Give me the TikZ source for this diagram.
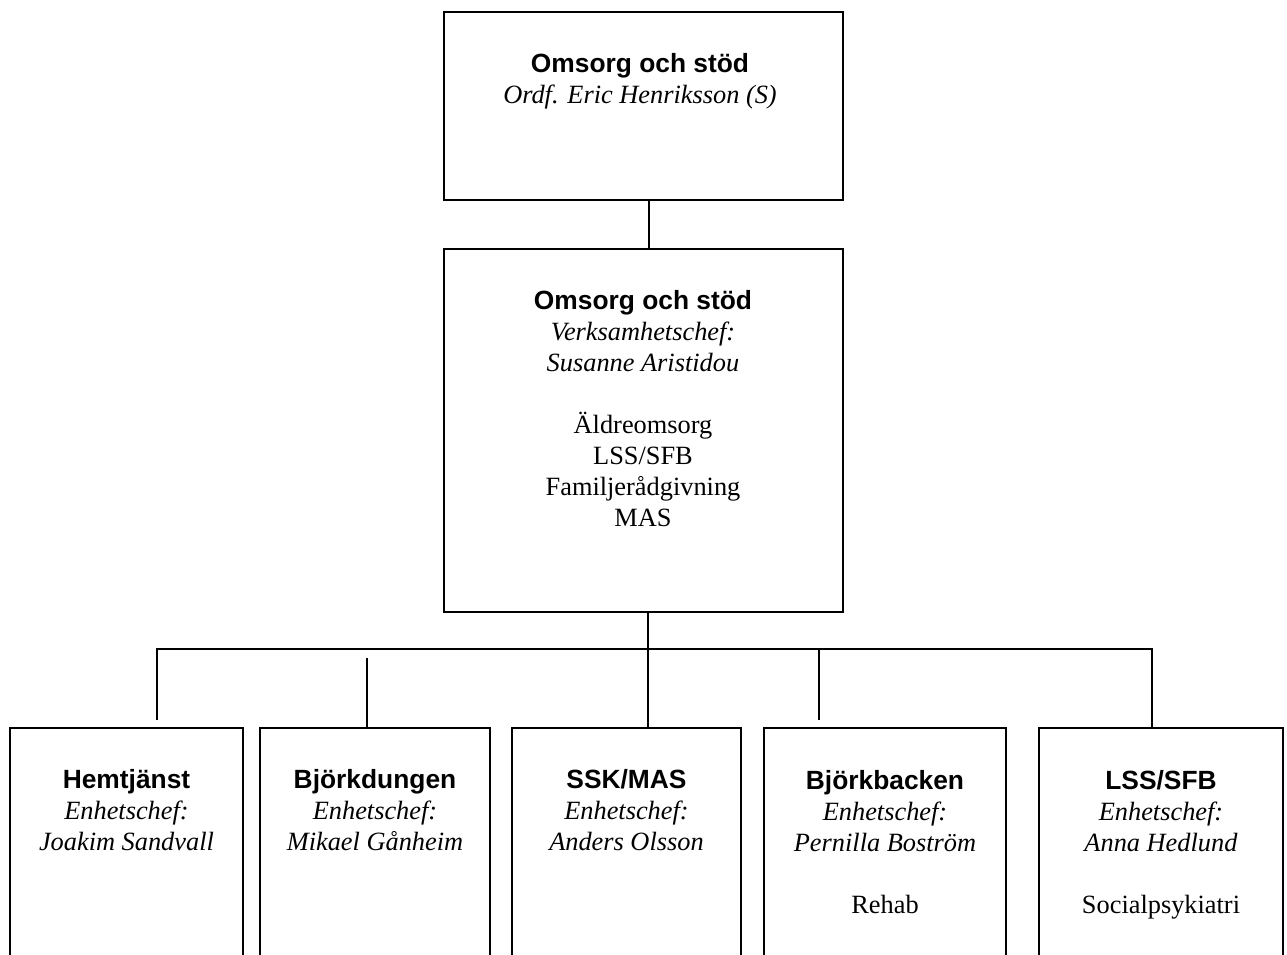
\documentclass[tikz,border=0pt]{standalone}
\usepackage{fontspec}
\setmainfont{Liberation Serif}
\setsansfont{Liberation Sans}
\usetikzlibrary{positioning}

\tikzset{
    unit/.style={draw, line width=1.3pt, inner sep=0pt},
    txt/.style={align=center, inner sep=0pt, anchor=base,
        font=\fontsize{15}{17.6}\selectfont},
    link/.style={line width=1.3pt}
}
\newcommand{\unitname}[1]{{\sffamily\bfseries #1}}

\begin{document}
\begin{tikzpicture}[x=0.02cm, y=-0.02cm]
    \useasboundingbox (0,0) rectangle (1287,954);
    \clip (0,0) rectangle (1287,954);

    % Board (text placed by its last baseline)
    \node[unit, minimum width=7.98cm, minimum height=3.76cm] (board) at (643.5,106) {};
    \node[txt] (boardtxt) at (640,103) {\unitname{Omsorg och stöd}\\
        \textit{Ordf. Eric Henriksson (S)}};

    % Department
    \node[unit, minimum width=7.98cm, minimum height=7.26cm] (dept) at (643.5,430.5) {};
    \node[txt] (depttxt) at (643,526) {\unitname{Omsorg och stöd}\\
        \textit{Verksamhetschef:}\\ \textit{Susanne Aristidou}\\[17.6pt]
        Äldreomsorg\\ LSS/SFB\\ Familjerådgivning\\ MAS};

    % Units
    \node[unit, minimum width=4.66cm, minimum height=5.44cm] (hemtj) at (126.5,864) {};
    \node[unit, minimum width=4.60cm, minimum height=5.44cm] (bjd) at (375,864) {};
    \node[unit, minimum width=4.58cm, minimum height=5.44cm] (ssk) at (626.5,864) {};
    \node[unit, minimum width=4.84cm, minimum height=5.44cm] (bjb) at (885,864) {};
    \node[unit, minimum width=4.88cm, minimum height=5.44cm] (lss) at (1161,864) {};

    \node[txt] (hemtjtxt) at (126.5,850) {\unitname{Hemtjänst}\\
        \textit{Enhetschef:}\\ \textit{Joakim Sandvall}};
    \node[txt] (bjdtxt) at (375,850) {\unitname{Björkdungen}\\
        \textit{Enhetschef:}\\ \textit{Mikael Gånheim}};
    \node[txt] (ssktxt) at (626.5,850) {\unitname{SSK/MAS}\\
        \textit{Enhetschef:}\\ \textit{Anders Olsson}};
    \node[txt] (bjbtxt) at (885,913) {\unitname{Björkbacken}\\
        \textit{Enhetschef:}\\ \textit{Pernilla Boström}\\[17.6pt] Rehab};
    \node[txt] (lsstxt) at (1161,913) {\unitname{LSS/SFB}\\
        \textit{Enhetschef:}\\ \textit{Anna Hedlund}\\[17.6pt] Socialpsykiatri};

    % Lines
    \coordinate (busL) at (157,649);
    \coordinate (busR) at (1152,649);
    \coordinate (stub1) at (157,720);
    \coordinate (stub2) at (367,658);
    \coordinate (stub4top) at (819,649);
    \coordinate (stub4) at (819,720);

    \draw[link] ([xshift=0.11cm]board.south) -- ([xshift=0.11cm]dept.north);
    \draw[link] ([xshift=0.09cm]dept.south) -- ([xshift=0.09cm]dept.south |- ssk.north);
    \draw[link] (stub1) -- (busL) -- (busR) -- (busR |- lss.north);
    \draw[link] (stub2) -- (stub2 |- bjd.north);
    \draw[link] (stub4top) -- (stub4);
\end{tikzpicture}
\end{document}
